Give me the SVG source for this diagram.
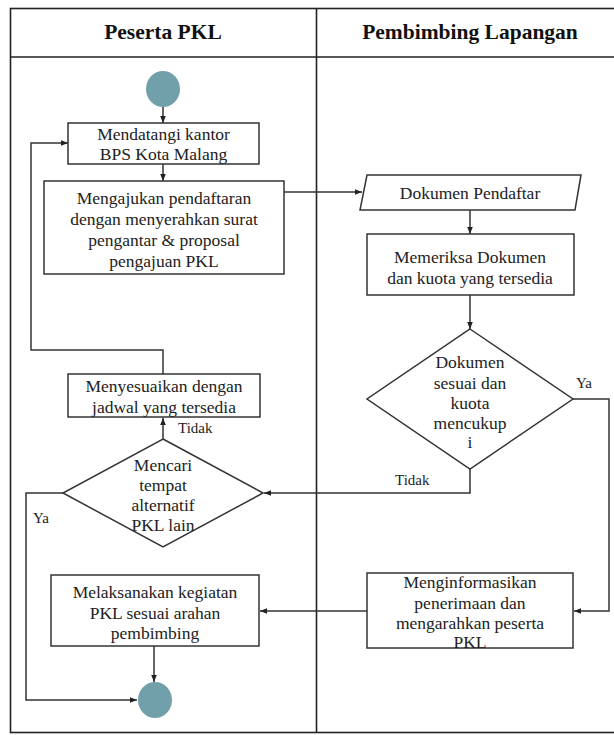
<svg xmlns="http://www.w3.org/2000/svg" width="614" height="735" viewBox="0 0 614 735" font-family="'Liberation Serif', 'Times New Roman', serif">
  <style>
    .lane { fill: none; stroke: #222; stroke-width: 1.6; }
    .box { fill: #fff; stroke: #333; stroke-width: 1.5; }
    .dot { fill: #71a0aa; }
    .t { font-size: 17.5px; fill: #222; text-anchor: middle; }
    .h { font-size: 21.5px; font-weight: bold; fill: #111; text-anchor: middle; }
    .lbl { font-size: 15px; fill: #222; }
    .c { fill: none; stroke: #333; stroke-width: 1.5; marker-end: url(#ah); }
  </style>
  <defs>
    <marker id="ah" viewBox="0 0 10 10" refX="10" refY="5" markerWidth="7" markerHeight="7" markerUnits="userSpaceOnUse" orient="auto">
      <path d="M0,1 L10,5 L0,9 z" fill="#222"/>
    </marker>
  </defs>

  <rect width="614" height="735" fill="#fff"/>

  <!-- swimlanes -->
  <g id="lanes">
    <rect class="lane" x="10.5" y="8.5" width="610" height="724"/>
    <line class="lane" x1="10" y1="57" x2="614" y2="57"/>
    <line class="lane" x1="316.5" y1="8" x2="316.5" y2="733"/>
    <text class="h" x="163" y="39" font-family="'Liberation Serif', serif">Peserta PKL</text>
    <text class="h" x="470" y="39" font-family="'Liberation Serif', serif">Pembimbing Lapangan</text>
  </g>

  <!-- connectors -->
  <g id="connectors" font-family="'Liberation Serif', serif">
    <path class="c" d="M163,107 V123"/>
    <path class="c" d="M163,164 V181"/>
    <path class="c" d="M278,192 H362"/>
    <path class="c" d="M470,210 V234"/>
    <path class="c" d="M470,295 V329"/>
    <path class="c" d="M573,399 H609 V611 H574"/>
    <path class="c" d="M470,469 V493 H264"/>
    <path class="c" d="M163,439 V418"/>
    <path class="c" d="M163,374 V350 H31 V143 H68"/>
    <path class="c" d="M63,493 H26 V700 H137"/>
    <path class="c" d="M367,611 H260"/>
    <path class="c" d="M154,646 V682"/>
    <text class="lbl" x="576" y="388">Ya</text>
    <text class="lbl" x="395" y="485">Tidak</text>
    <text class="lbl" x="178" y="433">Tidak</text>
    <text class="lbl" x="33" y="523">Ya</text>
  </g>

  <g id="start">
    <ellipse class="dot" cx="163" cy="89" rx="17" ry="18"/>
  </g>

  <g id="mendatangi" font-family="'Liberation Serif', serif">
    <rect class="box" x="68" y="123" width="191" height="41"/>
    <text class="t" x="163.5" y="140">Mendatangi kantor</text>
    <text class="t" x="163.5" y="160">BPS Kota Malang</text>
  </g>

  <g id="mengajukan" font-family="'Liberation Serif', serif">
    <rect class="box" x="44" y="181" width="240" height="93"/>
    <text class="t" x="164" y="204">Mengajukan pendaftaran</text>
    <text class="t" x="164" y="225">dengan menyerahkan surat</text>
    <text class="t" x="164" y="246">pengantar &amp; proposal</text>
    <text class="t" x="164" y="267">pengajuan PKL</text>
  </g>

  <g id="dokumen" font-family="'Liberation Serif', serif">
    <polygon class="box" points="367,175 581,175 575,210 360,210"/>
    <text class="t" x="470" y="199">Dokumen Pendaftar</text>
  </g>

  <g id="memeriksa" font-family="'Liberation Serif', serif">
    <rect class="box" x="367" y="234" width="207" height="61"/>
    <text class="t" x="470" y="263">Memeriksa Dokumen</text>
    <text class="t" x="470" y="284">dan kuota yang tersedia</text>
  </g>

  <g id="cek-dokumen" font-family="'Liberation Serif', serif">
    <polygon class="box" points="470,329 573,399 470,469 367,399"/>
    <text class="t" x="470" y="368">Dokumen</text>
    <text class="t" x="470" y="389">sesuai dan</text>
    <text class="t" x="470" y="409">kuota</text>
    <text class="t" x="470" y="429">mencukup</text>
    <text class="t" x="470" y="448">i</text>
  </g>

  <g id="menyesuaikan" font-family="'Liberation Serif', serif">
    <rect class="box" x="68" y="374" width="192" height="43"/>
    <text class="t" x="164" y="392">Menyesuaikan dengan</text>
    <text class="t" x="164" y="413">jadwal yang tersedia</text>
  </g>

  <g id="alternatif" font-family="'Liberation Serif', serif">
    <polygon class="box" points="163,439 263,493 163,547 63,493"/>
    <text class="t" x="163" y="471">Mencari</text>
    <text class="t" x="163" y="491">tempat</text>
    <text class="t" x="163" y="511">alternatif</text>
    <text class="t" x="163" y="531">PKL lain</text>
  </g>

  <g id="melaksanakan" font-family="'Liberation Serif', serif">
    <rect class="box" x="51" y="575" width="208" height="71"/>
    <text class="t" x="155" y="598">Melaksanakan kegiatan</text>
    <text class="t" x="155" y="619">PKL sesuai arahan</text>
    <text class="t" x="155" y="639">pembimbing</text>
  </g>

  <g id="menginformasikan" font-family="'Liberation Serif', serif">
    <rect class="box" x="367" y="573" width="206" height="75"/>
    <text class="t" x="470" y="588">Menginformasikan</text>
    <text class="t" x="470" y="609">penerimaan dan</text>
    <text class="t" x="470" y="629">mengarahkan  peserta</text>
    <text class="t" x="470" y="648">PKL</text>
  </g>

  <g id="end">
    <ellipse class="dot" cx="155" cy="700" rx="17" ry="18"/>
  </g>
</svg>
